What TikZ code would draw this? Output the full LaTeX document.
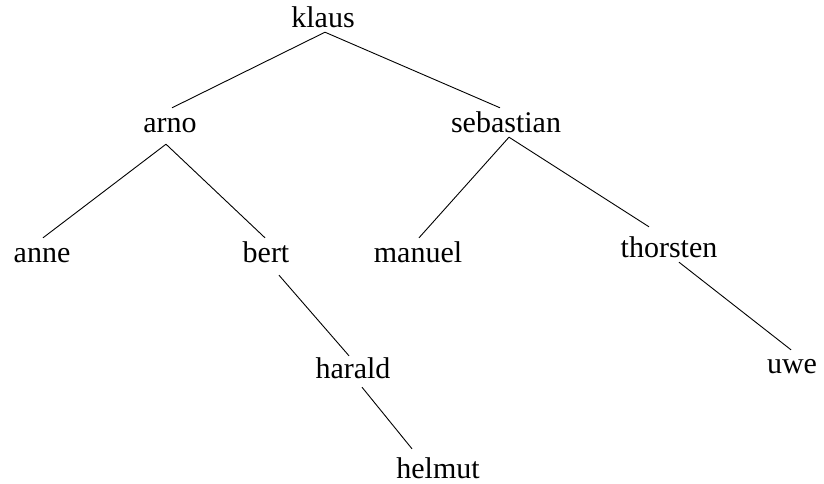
\documentclass[tikz,border=0pt]{standalone}
\usepackage{fontspec}
\setmainfont{Liberation Serif}
\begin{document}
\begin{tikzpicture}[x=1pt,y=-1pt,
  person/.style={anchor=base, inner sep=0pt, text height=24pt, text depth=5pt,
    font=\fontsize{30}{36}\selectfont},
  branch/.style={draw=black, line width=0.9pt}]
  \useasboundingbox (0,0) rectangle (824,483);

  % family members, placed by their text baselines
  \node[person] (klaus)     at (323,27)  {klaus};
  \node[person] (arno)      at (170,132) {arno};
  \node[person] (sebastian) at (506,132) {sebastian};
  \node[person] (anne)      at (42,262)  {anne};
  \node[person] (bert)      at (266,262) {bert};
  \node[person] (manuel)    at (418,262) {manuel};
  \node[person] (thorsten)  at (669,257) {thorsten};
  \node[person] (harald)    at (353,378) {harald};
  \node[person] (uwe)       at (792,373) {uwe};
  \node[person] (helmut)    at (438,478) {helmut};

  % parent-child branches
  \draw[branch] ([shift={(2,0)}]klaus.south) -- ([shift={(2,0)}]arno.north);
  \draw[branch] ([shift={(2,0)}]klaus.south) -- ([shift={(-6,0)}]sebastian.north);
  \draw[branch] ([shift={(-4,7)}]arno.south) -- ([shift={(1,0)}]anne.north);
  \draw[branch] ([shift={(-4,7)}]arno.south) -- ([shift={(-1,0)}]bert.north);
  \draw[branch] ([shift={(3,0)}]sebastian.south) -- ([shift={(1,0)}]manuel.north);
  \draw[branch] ([shift={(3,0)}]sebastian.south) -- ([shift={(-20,-6)}]thorsten.north);
  \draw[branch] ([shift={(13,8)}]bert.south) -- ([shift={(-4,2)}]harald.north);
  \draw[branch] ([shift={(9,4)}]harald.south) -- ([shift={(-26,-5)}]helmut.north);
  \draw[branch] ([shift={(10,0)}]thorsten.south) -- ([shift={(-1,1)}]uwe.north);
\end{tikzpicture}
\end{document}
